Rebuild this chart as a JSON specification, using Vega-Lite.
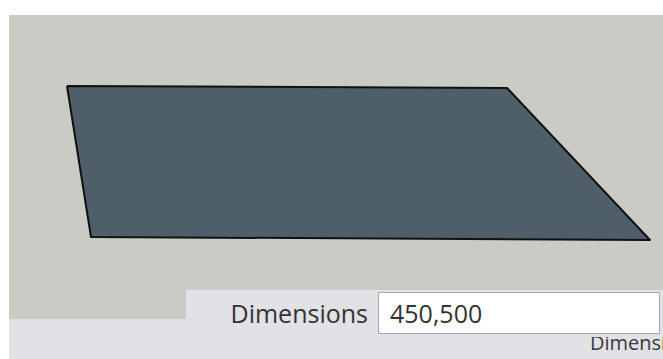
{
  "$schema": "https://vega.github.io/schema/vega-lite/v6.json",
  "width": 663,
  "height": 359,
  "autosize": {"type": "none"},
  "padding": 0,
  "background": "#ffffff",
  "config": {"view": {"stroke": null}},
  "layer": [
    {
      "data": {"values": [
        {"part": "canvas", "x0": 9, "x1": 663, "y0": 15, "y1": 319},
        {"part": "bottom", "x0": 9, "x1": 663, "y0": 319, "y1": 359}
      ]},
      "mark": {"type": "rect"},
      "encoding": {
        "x": {"field": "x0", "type": "quantitative", "scale": {"domain": [0, 663], "nice": false, "zero": false}, "axis": null},
        "x2": {"field": "x1"},
        "y": {"field": "y0", "type": "quantitative", "scale": {"domain": [0, 359], "nice": false, "zero": false, "reverse": true}, "axis": null},
        "y2": {"field": "y1"},
        "color": {"field": "part", "type": "nominal", "scale": {"domain": ["canvas", "bottom"], "range": ["#cbcbc6", "#e1e1e6"]}, "legend": null}
      }
    },
    {
      "data": {"values": [
        {"label": "Dimensions", "tx": 590, "ty": 350}
      ]},
      "mark": {"type": "text", "font": "Open Sans", "fontSize": 20, "color": "#3a3a3a", "align": "left", "baseline": "alphabetic"},
      "encoding": {
        "x": {"field": "tx", "type": "quantitative"},
        "y": {"field": "ty", "type": "quantitative"},
        "text": {"field": "label"}
      }
    },
    {
      "data": {"values": [
        {"part": "status", "x0": 186, "x1": 663, "y0": 290, "y1": 337}
      ]},
      "mark": {"type": "rect", "fill": "#e1e1e6"},
      "encoding": {
        "x": {"field": "x0", "type": "quantitative"},
        "x2": {"field": "x1"},
        "y": {"field": "y0", "type": "quantitative"},
        "y2": {"field": "y1"}
      }
    },
    {
      "data": {"values": [
        {"part": "input", "x0": 378.5, "x1": 659.5, "y0": 292.5, "y1": 333.5}
      ]},
      "mark": {"type": "rect", "fill": "#ffffff", "stroke": "#a8a8a8", "strokeWidth": 1},
      "encoding": {
        "x": {"field": "x0", "type": "quantitative"},
        "x2": {"field": "x1"},
        "y": {"field": "y0", "type": "quantitative"},
        "y2": {"field": "y1"}
      }
    },
    {
      "data": {"values": [
        {"k": 1, "px": 67, "py": 86},
        {"k": 2, "px": 507, "py": 88},
        {"k": 3, "px": 650, "py": 240},
        {"k": 4, "px": 91, "py": 237},
        {"k": 5, "px": 67, "py": 86}
      ]},
      "mark": {"type": "line", "fill": "#4e5f69", "stroke": "#111111", "strokeWidth": 2, "strokeJoin": "round"},
      "encoding": {
        "x": {"field": "px", "type": "quantitative"},
        "y": {"field": "py", "type": "quantitative"},
        "order": {"field": "k", "type": "quantitative"}
      }
    },
    {
      "data": {"values": [
        {"label": "Dimensions", "tx": 368, "ty": 323}
      ]},
      "mark": {"type": "text", "font": "Open Sans", "fontSize": 25, "color": "#333333", "align": "right", "baseline": "alphabetic"},
      "encoding": {
        "x": {"field": "tx", "type": "quantitative"},
        "y": {"field": "ty", "type": "quantitative"},
        "text": {"field": "label"}
      }
    },
    {
      "data": {"values": [
        {"label": "450,500", "tx": 390, "ty": 323}
      ]},
      "mark": {"type": "text", "font": "Open Sans", "fontSize": 25, "color": "#333333", "align": "left", "baseline": "alphabetic"},
      "encoding": {
        "x": {"field": "tx", "type": "quantitative"},
        "y": {"field": "ty", "type": "quantitative"},
        "text": {"field": "label"}
      }
    }
  ]
}
